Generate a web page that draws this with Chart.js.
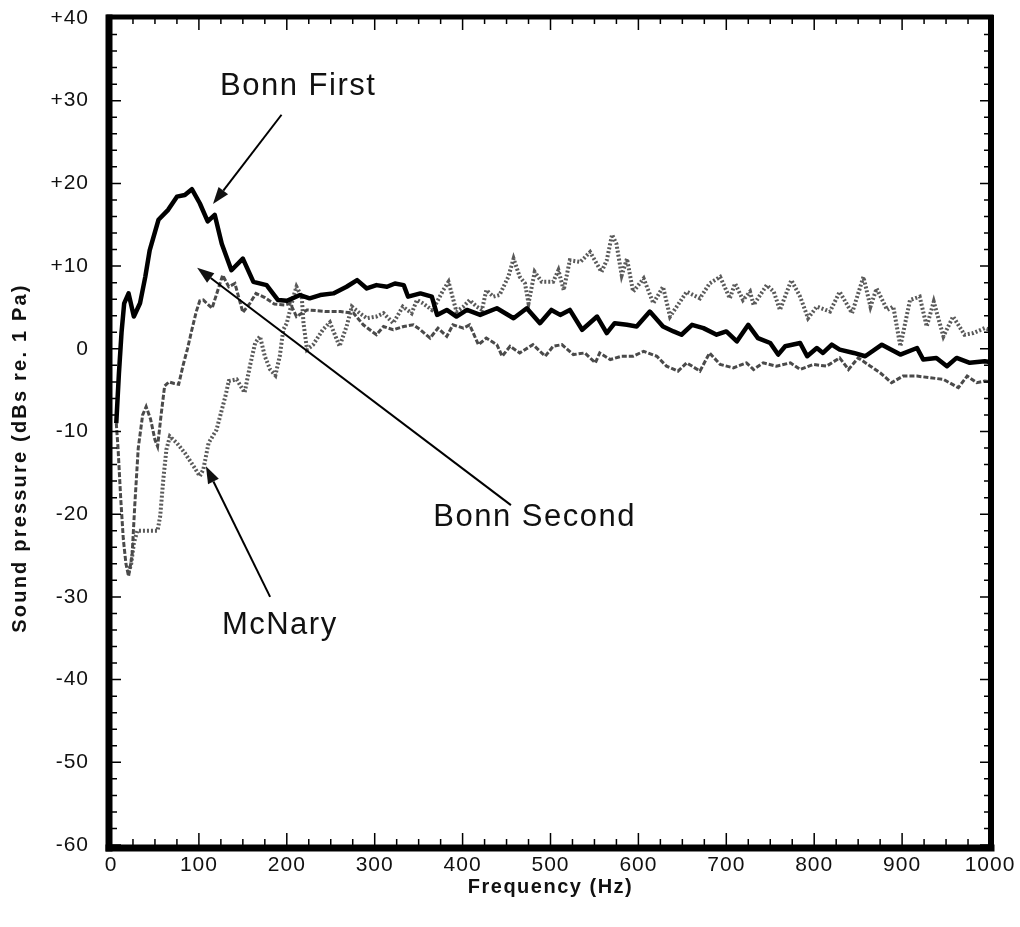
<!DOCTYPE html>
<html><head><meta charset="utf-8">
<script src="https://cdn.jsdelivr.net/npm/chart.js@4/dist/chart.umd.min.js"></script>
<style>html,body{margin:0;padding:0;background:#fff}canvas{display:block}</style>
</head><body>
<canvas id="c" width="1020" height="927"></canvas>
<script>
// ---- data (frequency Hz, sound pressure dB re 1 Pa) ----
const xTickValues = [0,100,200,300,400,500,600,700,800,900,1000];
const yTickValues = [40,30,20,10,0,-10,-20,-30,-40,-50,-60];
const yTickLabels = ['+40','+30','+20','+10','0','-10','-20','-30','-40','-50','-60'];
const seriesNames = ['Bonn First','Bonn Second','McNary'];

const bonnFirst = [[6,-9],[9,-3],[12,2],[15,5.5],[20,6.7],[26,3.9],[33,5.5],[39,8.7],[44,11.9],[54,15.6],[65,16.8],[75,18.4],[84,18.6],[92,19.3],[101,17.6],[110,15.4],[118,16.2],[126,12.7],[137,9.5],[150,10.9],[162,8.1],[177,7.7],[190,5.9],[200,5.8],[215,6.5],[226,6.1],[238,6.5],[253,6.7],[268,7.5],[280,8.3],[291,7.3],[302,7.7],[314,7.5],[323,7.9],[333,7.7],[338,6.3],[352,6.7],[365,6.3],[371,4.1],[382,4.7],[393,3.9],[405,4.7],[420,4.1],[439,4.9],[458,3.7],[473,4.9],[488,3.1],[501,4.7],[511,4.1],[522,4.7],[536,2.3],[553,3.9],[564,1.9],[573,3.1],[587,2.9],[598,2.7],[613,4.5],[628,2.7],[640,2.1],[649,1.7],[661,2.9],[674,2.5],[689,1.7],[700,2.1],[712,0.9],[725,2.9],[736,1.3],[750,0.7],[759,-0.7],[767,0.3],[784,0.7],[792,-0.9],[803,0.1],[810,-0.5],[820,0.5],[829,-0.1],[845,-0.5],[858,-0.9],[877,0.5],[898,-0.7],[917,0.1],[924,-1.3],[939,-1.1],[951,-2.1],[962,-1.1],[977,-1.7],[994,-1.5],[1000,-1.6]];

const bonnSecond = [[6,-9],[8,-12],[11,-18],[14,-23],[17,-26],[20,-27.5],[24,-25],[27,-19],[31,-12],[36,-8],[40,-7],[45,-8.5],[50,-11],[53,-11.8],[57,-8],[61,-4.5],[66,-4],[72,-4.2],[77,-4.3],[82,-2],[87,0],[92,2.3],[97,4.5],[101,5.8],[105,5.9],[115,4.9],[127,8.9],[134,7.5],[141,7.9],[150,4.4],[158,5.5],[165,6.7],[175,6.2],[186,5.4],[198,5.3],[204,5.5],[211,3.9],[223,4.7],[235,4.6],[245,4.5],[261,4.5],[276,4.3],[287,2.9],[302,1.7],[310,2.7],[321,2.3],[333,2.7],[344,2.9],[352,2.3],[363,1.3],[372,2.5],[382,1.5],[389,2.9],[401,2.5],[408,2.9],[418,0.5],[427,1.3],[439,0.5],[445,-0.9],[454,0.3],[465,-0.5],[480,0.5],[494,-0.9],[503,0.3],[513,0.5],[526,-0.7],[539,-0.5],[551,-1.7],[556,-0.5],[568,-1.3],[581,-0.9],[594,-0.9],[606,-0.3],[621,-0.9],[632,-2.1],[645,-2.7],[655,-1.7],[670,-2.7],[681,-0.5],[693,-1.9],[708,-2.3],[723,-1.7],[731,-2.5],[742,-1.7],[757,-2.1],[773,-1.7],[784,-2.5],[799,-1.9],[814,-2.1],[829,-1.1],[839,-2.5],[850,-1.1],[864,-2.1],[875,-2.9],[888,-4.1],[901,-3.3],[917,-3.3],[932,-3.5],[947,-3.7],[964,-4.7],[974,-3.3],[985,-4.1],[994,-3.9],[1000,-4.0]];

const mcNary = [[20,-27],[23,-26],[26,-23.5],[30,-22],[40,-22],[53,-22],[56,-20.2],[59.5,-15.8],[63,-12.2],[67,-10.6],[75,-11.4],[84,-12.6],[94,-14.2],[101,-15.4],[105,-14.6],[111,-11.4],[120,-9.8],[130,-5.8],[134,-3.9],[143,-3.7],[152,-5.3],[158,-2.1],[164,0.7],[169.5,1.5],[175,-0.9],[181,-2.5],[187,-3.2],[192,-0.9],[196,2.3],[200,3.1],[207.5,6.3],[211,7.5],[217,6.3],[219,3.1],[223,-0.1],[230,0.5],[241,2.3],[249,3.2],[260,0.3],[268,2.7],[274,5.1],[283,4.3],[291,3.7],[302,3.9],[310,4.3],[321,3.1],[332,5.1],[342,4.3],[348,5.9],[355,5.5],[365,4.7],[370,5.5],[378,7.1],[384,8.1],[388,6.5],[393,4.5],[401,5.1],[408,5.9],[416,5.1],[422,4.7],[427,7.1],[435,6.3],[442,6.5],[452,8.7],[458,10.9],[465,8.7],[471,7.9],[475,5.5],[482,9.3],[490,8.1],[503,8.1],[509,9.5],[515,7.1],[522,10.7],[534,10.5],[545,11.7],[558,9.3],[564,10.7],[570,13.8],[575,12.7],[581,8.9],[587,10.9],[594,6.9],[606,8.5],[617,5.5],[628,7.5],[636,3.9],[655,6.9],[670,6.1],[681,7.9],[693,8.7],[704,6.1],[710,7.9],[719,5.9],[727,6.9],[731,5.3],[746,7.7],[754,6.9],[761,4.7],[774,8.3],[784,6.3],[793,3.7],[803,5.1],[818,4.5],[829,6.9],[843,4.3],[856,8.7],[864,5.1],[871,7.3],[883,4.7],[890,5.1],[898,0.3],[909,5.9],[920,6.3],[928,2.7],[936,5.7],[947,1.5],[958,3.9],[971,1.7],[981,1.9],[994,2.5],[1000,2.3]];

// annotation labels (data coordinates)
const notes = [
  {text:'Bonn First',  at:[213,31.7],  from:[194,28.3], to:[116,17.5]},
  {text:'Bonn Second', at:[482,-20.4], from:[455,-18.9], to:[98,9.8]},
  {text:'McNary',      at:[192,-33.5], from:[181,-30.0], to:[108,-14.2]}
];

const FONT = "'Liberation Sans', Arial, Helvetica, sans-serif";
const toXY = arr => arr.map(([x,y]) => ({x, y}));

const framePlugin = {
  id:'frame',
  beforeDraw(chart){ chart.ctx.letterSpacing = '1px'; },
  afterDraw(chart){
    const {ctx, chartArea:a, scales:{x, y}} = chart;
    ctx.save();
    ctx.letterSpacing = '0px';
    ctx.strokeStyle = '#000';
    ctx.lineCap = 'butt';
    // ticks
    ctx.lineWidth = 1.5;
    ctx.beginPath();
    for (let v = -60; v <= 40; v += 2) {
      const py = y.getPixelForValue(v);
      const len = (v % 10 === 0) ? 10 : 6;
      ctx.moveTo(a.left, py); ctx.lineTo(a.left + len, py);
      ctx.moveTo(a.right, py); ctx.lineTo(a.right - len, py);
    }
    for (let v = 0; v <= 1000; v += 25) {
      const px = x.getPixelForValue(v);
      const len = (v % 100 === 0) ? 12 : 6;
      ctx.moveTo(px, a.bottom); ctx.lineTo(px, a.bottom - len);
      ctx.moveTo(px, a.top); ctx.lineTo(px, a.top + len);
    }
    ctx.stroke();
    // thick frame
    ctx.lineCap = 'square';
    ctx.lineWidth = 7;
    ctx.beginPath(); ctx.moveTo(a.left - 2, a.top); ctx.lineTo(a.left - 2, a.bottom + 3); ctx.stroke();
    ctx.beginPath(); ctx.moveTo(a.left - 2, a.bottom + 3); ctx.lineTo(a.right + 1, a.bottom + 3); ctx.stroke();
    ctx.lineWidth = 5;
    ctx.beginPath(); ctx.moveTo(a.left - 2, a.top - 1); ctx.lineTo(a.right + 1, a.top - 1); ctx.stroke();
    ctx.lineWidth = 6;
    ctx.beginPath(); ctx.moveTo(a.right + 1, a.top); ctx.lineTo(a.right + 1, a.bottom + 3); ctx.stroke();

    // axis titles
    ctx.fillStyle = '#111';
    ctx.font = "bold 20px " + FONT;
    ctx.letterSpacing = '1.5px';
    ctx.textAlign = 'center'; ctx.textBaseline = 'middle';
    ctx.fillText('Frequency (Hz)', (a.left + a.right) / 2, 887);
    ctx.save();
    ctx.translate(20, 458);
    ctx.rotate(-Math.PI / 2);
    ctx.letterSpacing = '2.2px';
    ctx.fillText('Sound pressure (dBs re. 1 Pa)', 0, 0);
    ctx.restore();

    // annotations with arrows
    ctx.font = "31px " + FONT;
    ctx.letterSpacing = '1.5px';
    ctx.fillStyle = '#111';
    ctx.lineCap = 'butt';
    notes.forEach(n => {
      ctx.fillText(n.text, x.getPixelForValue(n.at[0]), y.getPixelForValue(n.at[1]));
      const x1 = x.getPixelForValue(n.from[0]), y1 = y.getPixelForValue(n.from[1]);
      const x2 = x.getPixelForValue(n.to[0]),   y2 = y.getPixelForValue(n.to[1]);
      const ang = Math.atan2(y2 - y1, x2 - x1);
      const hl = 17, hw = 6;
      const bx = x2 - hl * Math.cos(ang), by = y2 - hl * Math.sin(ang);
      ctx.lineWidth = 2;
      ctx.beginPath(); ctx.moveTo(x1, y1); ctx.lineTo(bx, by); ctx.stroke();
      ctx.beginPath();
      ctx.moveTo(x2, y2);
      ctx.lineTo(bx + hw * Math.sin(ang), by - hw * Math.cos(ang));
      ctx.lineTo(bx - hw * Math.sin(ang), by + hw * Math.cos(ang));
      ctx.closePath(); ctx.fill();
    });
    ctx.restore();
  }
};

new Chart(document.getElementById('c'), {
  type:'line',
  data:{ datasets:[
    {label:seriesNames[0], data:toXY(bonnFirst), borderColor:'#000', borderWidth:4.5, pointRadius:0, tension:0, borderJoinStyle:'round'},
    {label:seriesNames[1], data:toXY(bonnSecond), borderColor:'#4a4a4a', borderWidth:3, borderDash:[5,2], pointRadius:0, tension:0},
    {label:seriesNames[2], data:toXY(mcNary), borderColor:'#5a5a5a', borderWidth:4, borderDash:[2,2], pointRadius:0, tension:0}
  ]},
  options:{
    responsive:false, animation:false, events:[],
    layout:{padding:{left:0, top:18, right:30, bottom:0}},
    plugins:{legend:{display:false}, tooltip:{enabled:false}},
    scales:{
      x:{type:'linear', min:0, max:1000,
         afterBuildTicks:s => { s.ticks = xTickValues.map(v => ({value:v})); },
         grid:{display:false, drawTicks:false}, border:{display:false},
         ticks:{font:{family:FONT, size:21}, color:'#111', padding:8, maxRotation:0, autoSkip:false,
                callback:v => String(v)},
         afterFit:s => { s.height = 82; s.paddingLeft = 0; s.paddingRight = 0; }},
      y:{type:'linear', min:-60, max:40,
         afterBuildTicks:s => { s.ticks = yTickValues.map(v => ({value:v})); },
         grid:{display:false, drawTicks:false}, border:{display:false},
         ticks:{font:{family:FONT, size:21}, color:'#111', padding:22, autoSkip:false,
                callback:v => yTickLabels[yTickValues.indexOf(v)]},
         afterFit:s => { s.width = 111; s.paddingTop = 0; s.paddingBottom = 0; }}
    }
  },
  plugins:[framePlugin]
});
</script>
</body></html>
